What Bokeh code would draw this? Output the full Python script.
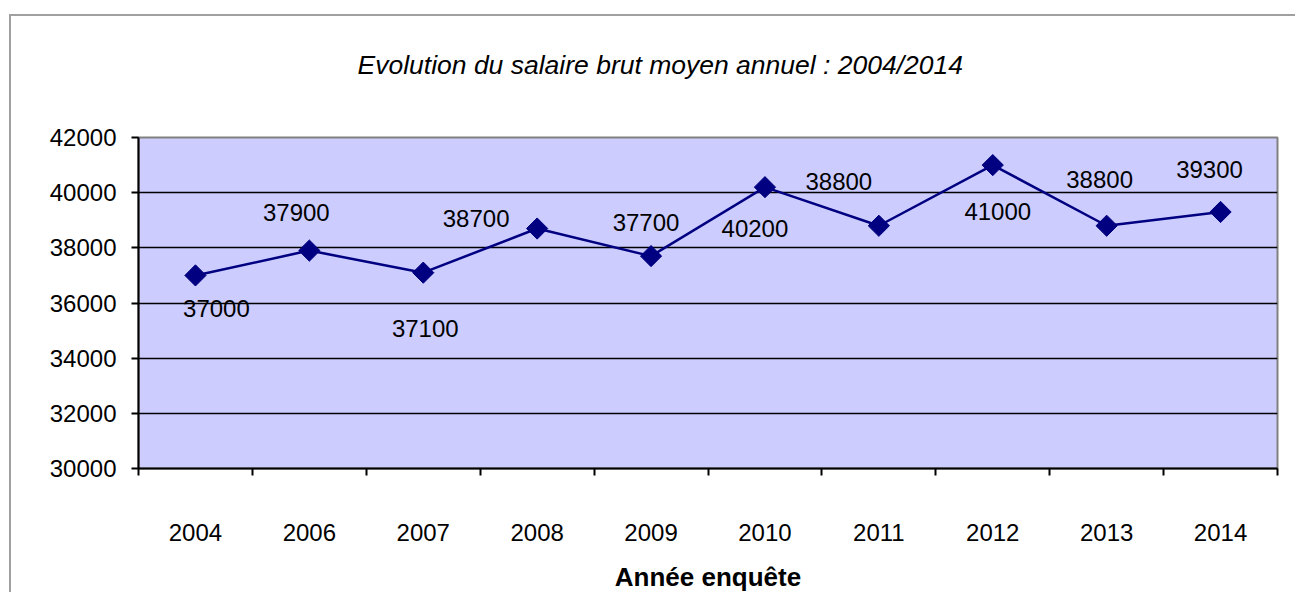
import math
from bokeh.plotting import figure
from bokeh.models import FixedTicker, Range1d, ColumnDataSource, LabelSet
from bokeh.core.properties import value
from bokeh.embed import file_html
from bokeh.resources import INLINE

# ---- data ----
years = ["2004", "2006", "2007", "2008", "2009", "2010", "2011", "2012", "2013", "2014"]
salaries = [37000, 37900, 37100, 38700, 37700, 40200, 38800, 41000, 38800, 39300]
y_ticks = [30000, 32000, 34000, 36000, 38000, 40000, 42000]
title_text = "Evolution du salaire brut moyen annuel : 2004/2014"
x_title = "Année enquête"

# ---- label placement (styling, screen px; dy positive = up) ----
label_dx = [21, -13, 2, -61, -5, -10, -40, 5, -7, -11]
label_dy = [-33, 38, -56, 10, 34, -41, 44, -46, 46, 42]

FONT = "Liberation Sans"
NAVY = "#000080"

xs = [i + 0.5 for i in range(len(years))]
src = ColumnDataSource(dict(x=xs, y=salaries, lab=[str(v) for v in salaries],
                            dx=label_dx, dy=label_dy))

p = figure(width=1286, height=578, output_backend="svg", toolbar_location=None,
           x_range=Range1d(0, len(years)), y_range=Range1d(y_ticks[0], y_ticks[-1]),
           min_border_left=127, min_border_right=20, min_border_top=121,
           min_border_bottom=122)
p.styles = {"border-left": "2px solid #a0a0a0", "border-top": "2px solid #a0a0a0",
            "margin-top": "14px", "margin-left": "9px"}

p.background_fill_color = "#CCCCFF"
p.border_fill_color = "white"
p.outline_line_color = "#808080"
p.outline_line_width = 2

# title (an empty second line lifts it higher above the plot area)
p.title.text = title_text + "\n\u00a0"
p.title.align = "left"
p.title.offset = 219
p.title.standoff = 56
p.title.text_font = FONT
p.title.text_font_style = "italic"
p.title.text_font_size = "26.5px"
p.title.text_color = "black"

# x axis: boundary ticks as minor ticks, labels at category centres
xa = p.xaxis[0]
xa.ticker = FixedTicker(ticks=xs, minor_ticks=list(range(len(years) + 1)))
xa.major_label_overrides = {x: y for x, y in zip(xs, years)}
xa.major_tick_out = 0
xa.major_tick_in = 0
xa.minor_tick_out = 7
xa.minor_tick_in = 0
xa.minor_tick_line_color = "black"
xa.minor_tick_line_width = 2
xa.axis_line_color = "black"
xa.axis_line_width = 2
xa.major_label_text_font = FONT
xa.major_label_text_font_size = "24px"
xa.major_label_text_color = "black"
xa.major_label_standoff = 48
xa.axis_label = x_title
xa.axis_label_text_font = FONT
xa.axis_label_text_font_style = "bold"
xa.axis_label_text_font_size = "26px"
xa.axis_label_text_color = "black"
xa.axis_label_standoff = 18

ya = p.yaxis[0]
ya.ticker = FixedTicker(ticks=y_ticks, minor_ticks=[])
ya.major_tick_out = 7
ya.major_tick_in = 0
ya.major_tick_line_color = "black"
ya.major_tick_line_width = 2
ya.axis_line_color = "black"
ya.axis_line_width = 2
ya.major_label_text_font = FONT
ya.major_label_text_font_size = "24px"
ya.major_label_text_color = "black"
ya.major_label_standoff = 15

p.xgrid.grid_line_color = None
p.ygrid.ticker = FixedTicker(ticks=y_ticks)
p.ygrid.grid_line_color = "black"
p.ygrid.grid_line_width = 1.5

p.line("x", "y", source=src, line_color=NAVY, line_width=2.5)
p.scatter("x", "y", source=src, marker="square", size=15, angle=math.pi / 4,
          fill_color=NAVY, line_color=NAVY)

labels = LabelSet(x="x", y="y", text="lab", source=src, x_offset="dx", y_offset="dy",
                  text_align="center", text_baseline="middle",
                  text_font=value(FONT), text_font_size="24px", text_color="black")
p.add_layout(labels)

open("out.html", "w").write(file_html(p, INLINE))
